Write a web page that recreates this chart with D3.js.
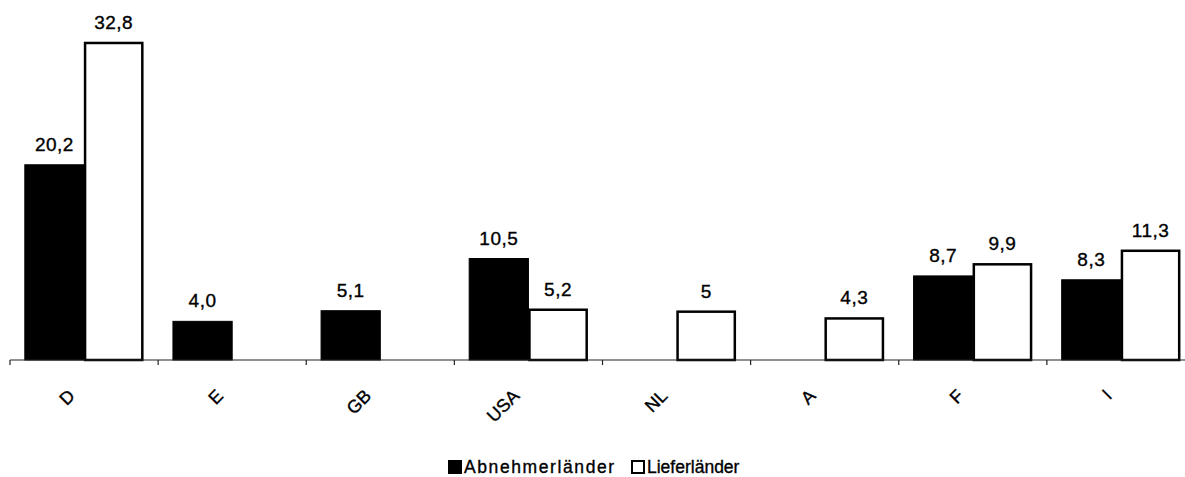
<!DOCTYPE html>
<html>
<head>
<meta charset="utf-8">
<script src="https://cdn.jsdelivr.net/npm/d3@7"></script>
<style>
  body { margin: 0; background: #fff; }
  svg { display: block; font-family: "Liberation Sans", Arial, Helvetica, sans-serif; }
  text { stroke: #000; stroke-width: 0.35px; }
</style>
</head>
<body>
<svg id="chart" width="1185" height="477"></svg>
<script>
const categories = ["D", "E", "GB", "USA", "NL", "A", "F", "I"];
const seriesNames = ["Abnehmerländer", "Lieferländer"];
const abnehmer = [20.2, 4.0, 5.1, 10.5, null, null, 8.7, 8.3];
const liefer = [32.8, null, null, 5.2, 5, 4.3, 9.9, 11.3];
const abnehmerLabels = ["20,2", "4,0", "5,1", "10,5", "", "", "8,7", "8,3"];
const lieferLabels = ["32,8", "", "", "5,2", "5", "4,3", "9,9", "11,3"];

const svg = d3.select("#chart");
const baseY = 360;

const x0 = d3.scaleBand().domain(categories).range([10, 1195]).paddingInner(0.2).paddingOuter(0.1);
const x1 = d3.scaleBand().domain(seriesNames).range([0, x0.bandwidth()]);
const y = d3.scaleLinear().domain([0, 35]).range([baseY, baseY - 35 * 9.665]);

const fills = ["#000", "#fff"];
const data = [abnehmer, liefer];
const labels = [abnehmerLabels, lieferLabels];

// bars
seriesNames.forEach((s, si) => {
  const g = svg.append("g");
  categories.forEach((c, ci) => {
    const v = data[si][ci];
    if (v == null) return;
    const bx = x0(c) + x1(s);
    g.append("rect")
      .attr("x", bx + (si === 1 ? 1 : 0))
      .attr("y", y(v))
      .attr("width", x1.bandwidth() - (si === 1 ? 2 : 0))
      .attr("height", baseY - y(v))
      .attr("fill", fills[si])
      .attr("stroke", "#000")
      .attr("stroke-width", si === 1 ? 2.5 : 1);
    svg.append("text")
      .attr("x", bx + x1.bandwidth() / 2)
      .attr("y", y(v) - 14)
      .attr("text-anchor", "middle")
      .attr("font-size", 19)
      .attr("letter-spacing", 0.5)
      .attr("fill", "#000")
      .text(labels[si][ci]);
  });
});

// axis line
const step = x0.step();
svg.append("line")
  .attr("x1", x0.range()[0]).attr("x2", 1185)
  .attr("y1", baseY).attr("y2", baseY)
  .attr("stroke", "#222").attr("stroke-width", 1.2);
// ticks at category boundaries
const boundaries = categories.map(c => x0(c) - x0.paddingInner() * step / 2);
boundaries.forEach(bx => {
  svg.append("line")
    .attr("x1", bx).attr("x2", bx)
    .attr("y1", baseY).attr("y2", baseY + 5)
    .attr("stroke", "#222").attr("stroke-width", 1.2);
});

// category labels
categories.forEach(c => {
  const cx = x0(c) + x0.bandwidth() / 2;
  svg.append("text")
    .attr("transform", `translate(${cx - 8},${baseY + 37}) rotate(-45)`)
    .attr("text-anchor", "end")
    .attr("font-size", 18)
    .attr("fill", "#000")
    .text(c);
});

// legend
const leg = svg.append("g");
const legX = [448, 631];
const legSpacing = [1.6, 0];
seriesNames.forEach((s, si) => {
  leg.append("rect")
    .attr("x", legX[si] + (si ? 1 : 0)).attr("y", 460 + (si ? 1 : 0))
    .attr("width", si ? 12 : 14).attr("height", si ? 12 : 14)
    .attr("fill", fills[si]).attr("stroke", "#000").attr("stroke-width", si ? 2 : 0);
  leg.append("text")
    .attr("x", legX[si] + 16).attr("y", 473)
    .attr("font-size", 17.5)
    .attr("letter-spacing", legSpacing[si])
    .attr("fill", "#000")
    .text(s);
});
</script>
</body>
</html>
